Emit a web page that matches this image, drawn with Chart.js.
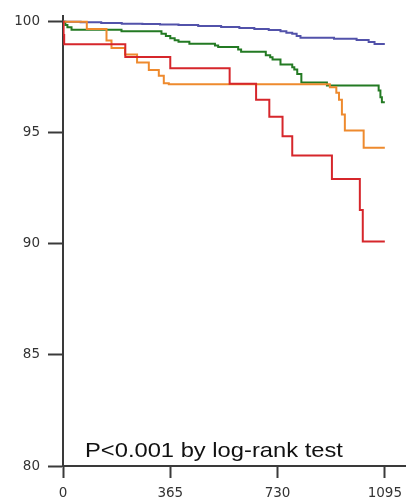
<!DOCTYPE html>
<html>
<head>
<meta charset="utf-8">
<style>
  html, body { margin: 0; padding: 0; background: #fff; }
  #wrap { width: 409px; height: 500px; }
</style>
</head>
<body>
<div id="wrap"><canvas id="kmChart" width="409" height="500"></canvas></div>

<script src="https://cdn.jsdelivr.net/npm/chart.js"></script>
<script>
    // Survival curves (days, survival %)
    var xTicks = [0, 365, 730, 1095];
    var yTicks = [80, 85, 90, 95, 100];

    var redDays = [0, 2, 4, 212, 365, 567, 657, 702, 747, 780, 915, 1010, 1020, 1095];
    var redSurv = [100, 99.4, 98.98, 98.41, 97.9, 97.2, 96.49, 95.72, 94.84, 93.98, 92.92, 91.52, 90.1, 90.1];

    var orangeDays = [0, 81, 148, 165, 211, 252, 292, 326, 343, 360, 908, 930, 939, 949, 959, 1023, 1095];
    var orangeSurv = [100, 99.67, 99.15, 98.81, 98.52, 98.16, 97.82, 97.56, 97.23, 97.18, 97.05, 96.8, 96.49, 95.82, 95.1, 94.33, 94.33];

    var greenDays = [0, 8, 15, 29, 199, 335, 350, 365, 380, 393, 430, 517, 528, 596, 606, 690, 705, 713, 740, 780, 787, 797, 811, 898, 1074, 1080, 1085, 1095];
    var greenSurv = [100, 99.85, 99.75, 99.64, 99.57, 99.45, 99.35, 99.25, 99.16, 99.1, 99.0, 98.93, 98.86, 98.75, 98.64, 98.49, 98.4, 98.3, 98.07, 97.95, 97.85, 97.64, 97.26, 97.13, 96.9, 96.6, 96.37, 96.37];

    var blueDays = [0, 60, 130, 200, 270, 330, 393, 460, 538, 600, 651, 700, 740, 760, 780, 795, 808, 922, 999, 1040, 1060, 1095];
    var blueSurv = [100, 99.97, 99.94, 99.91, 99.89, 99.87, 99.85, 99.8, 99.76, 99.71, 99.67, 99.62, 99.57, 99.5, 99.45, 99.35, 99.27, 99.23, 99.17, 99.08, 98.99, 98.99];

    function pts(days, surv) {
        return days.map(function (d, i) { return {x: d, y: surv[i]}; });
    }

    function curve(days, surv, color) {
        return {
            data: pts(days, surv),
            borderColor: color,
            borderWidth: 2,
            pointRadius: 0,
            stepped: 'before',
            fill: false
        };
    }

    // texte p-valeur, un peu étiré comme sur l'original
    var pText = {
        id: 'pText',
        afterDraw: function (chart) {
            var ctx = chart.ctx;
            ctx.save();
            ctx.translate(85, 457);
            ctx.scale(1.13, 1);
            ctx.font = '21px "Liberation Sans", Arial, sans-serif';
            ctx.fillStyle = '#111';
            ctx.textBaseline = 'alphabetic';
            ctx.fillText('P<0.001 by log-rank test', 0, 0);
            ctx.restore();
        }
    };

    var axisColor = '#3a3a3a';
    var tickFont = {family: '"DejaVu Sans", sans-serif', size: 13.5};
    var plain = function (v) { return String(v); };

    var ctx = document.getElementById('kmChart').getContext('2d');
    var kmChart = new Chart(ctx, {
        type: 'line',
        data: {
            datasets: [
                curve(redDays, redSurv, '#d6262b'),
                curve(orangeDays, orangeSurv, '#ee8a2e'),
                curve(greenDays, greenSurv, '#237a23'),
                curve(blueDays, blueSurv, '#5252aa')
            ]
        },
        options: {
            responsive: false,
            animation: false,
            layout: {padding: {top: 10, right: 0, left: 0, bottom: 0}},
            plugins: {legend: {display: false}, tooltip: {enabled: false}},
            scales: {
                x: {
                    type: 'linear',
                    min: 0,
                    max: 1166,
                    afterBuildTicks: function (s) { s.ticks = xTicks.map(function (v) { return {value: v}; }); },
                    afterFit: function (s) { s.height = 34; },
                    border: {color: axisColor, width: 2},
                    grid: {drawOnChartArea: false, drawTicks: true, tickLength: 12, tickColor: axisColor, tickWidth: 2},
                    ticks: {color: '#333', font: tickFont, padding: 7, maxRotation: 0, callback: plain}
                },
                y: {
                    min: 80,
                    max: 100.25,
                    afterBuildTicks: function (s) { s.ticks = yTicks.map(function (v) { return {value: v}; }); },
                    afterFit: function (s) { s.width = 63; },
                    border: {color: axisColor, width: 2},
                    grid: {drawOnChartArea: false, drawTicks: true, tickLength: 15, tickColor: axisColor, tickWidth: 2},
                    ticks: {color: '#333', font: tickFont, padding: 8, callback: plain}
                }
            }
        },
        plugins: [pText]
    });
</script>
</body>
</html>
